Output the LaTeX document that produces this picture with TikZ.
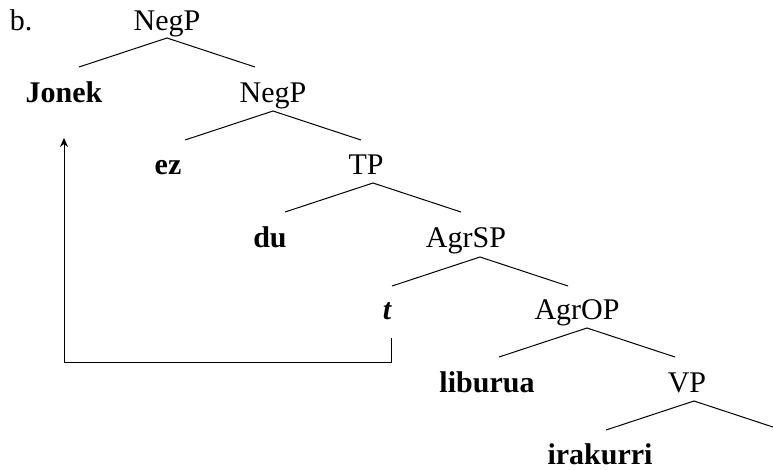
\documentclass[tikz,border=0pt]{standalone}
\usepackage{fontspec}
\setmainfont{Liberation Serif}
\usetikzlibrary{arrows.meta}
\begin{document}
\begin{tikzpicture}[x=1pt,y=-1pt,
  lab/.style={inner sep=0pt,anchor=base,font=\fontsize{30}{34}\selectfont},
  word/.style={lab,font=\fontsize{30}{34}\selectfont\bfseries},
  branch/.style={line width=1pt},
  movearrow/.style={line width=1pt,-{Stealth[length=9pt,width=8pt,inset=3pt]}}]
\useasboundingbox (0,0) rectangle (773,469);
% labels
\node[lab] (b) at (21,30) {b.};
\node[lab] (negp1) at (167,30) {NegP};
\node[word] (jonek) at (64,102) {Jonek};
\node[lab] (negp2) at (273,102) {NegP};
\node[word] (ez) at (168,174) {ez};
\node[lab] (tp) at (366,174) {TP};
\node[word] (du) at (270,247) {du};
\node[lab] (agrsp) at (466,247) {AgrSP};
\node[lab,font=\fontsize{30}{34}\selectfont\bfseries\itshape] (t) at (387,319) {t};
\node[lab] (agrop) at (577,319) {AgrOP};
\node[word] (liburua) at (487,392) {liburua};
\node[lab] (vp) at (687,392) {VP};
\node[word] (irakurri) at (600,464) {irakurri};
% branch points
\foreach \n/\x/\y in {a1/167/38, a2/273/111, a3/373/183, a4/480/257, a5/587/328, a6/694/401}{
  \coordinate (\n) at (\x,\y);
  \coordinate (\n l) at (\x-88,\y+29);
  \coordinate (\n r) at (\x+88,\y+29);
  \draw[branch] (\n l) -- (\n) -- (\n r);
}
% movement arrow
\coordinate (tfoot) at (391,338);
\coordinate (jfoot) at (64,138);
\draw[movearrow] (tfoot) |- (64,362) -- (jfoot);
\end{tikzpicture}
\end{document}
